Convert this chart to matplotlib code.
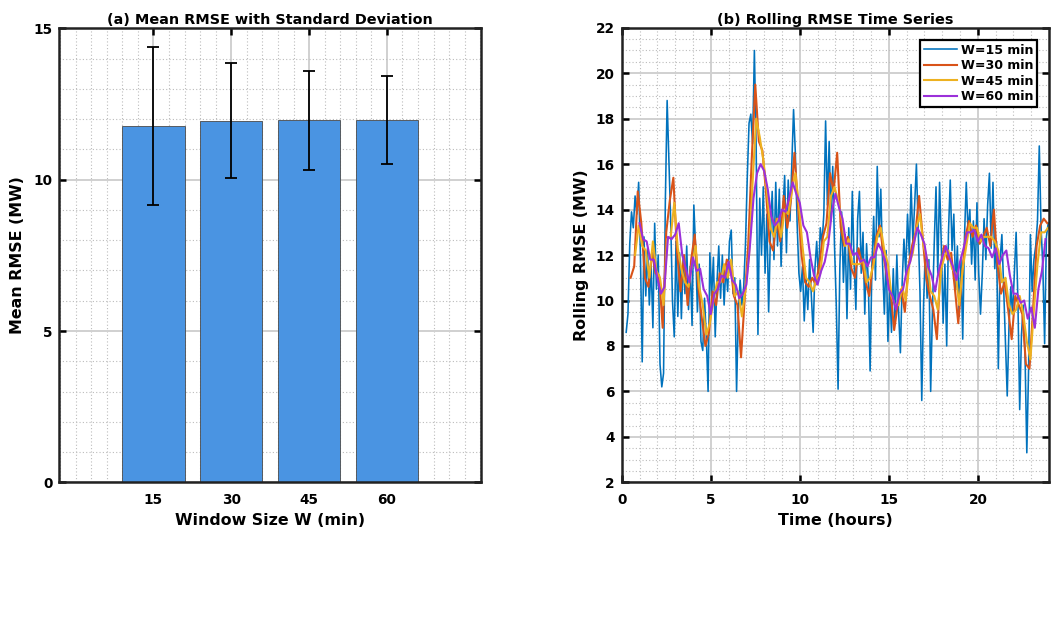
import numpy as np
import matplotlib
matplotlib.use("Agg")
import matplotlib.pyplot as plt
from matplotlib.ticker import MultipleLocator

plt.rcParams['font.family'] = ['DejaVu Sans']
plt.rcParams['font.weight'] = 'bold'

# (a) mean rolling RMSE per window size
windows = ['15', '30', '45', '60']
mean_rmse = [11.78, 11.94, 11.96, 11.98]
std_rmse = [2.62, 1.90, 1.64, 1.45]

# (b) rolling RMSE time series (hours, MW)
t15_start, t15_step = 0.25, 0.1
rmse15 = [8.6, 9.4, 12.5, 13.9, 13.2, 14.6, 13.8, 15.2, 12.0, 7.3,
          12.8, 10.2, 12.3, 9.8, 11.6, 8.8, 13.4, 10.5, 12.0, 7.2,
          6.2, 6.8, 14.4, 18.8, 16.2, 13.5, 10.0, 8.4, 12.6, 9.3,
          12.1, 9.2, 11.8, 10.3, 12.4, 9.6, 11.5, 8.9, 14.2, 12.3,
          9.5, 11.6, 8.2, 7.8, 10.1, 8.4, 6.0, 12.1, 10.2, 11.9,
          8.4, 10.8, 12.4, 10.1, 12.0, 9.8, 11.5, 10.4, 12.6, 13.1,
          10.3, 11.0, 6.0, 9.5, 10.9, 9.8, 10.6, 12.5, 15.4, 17.8,
          18.2, 16.9, 21.0, 16.8, 8.5, 14.5, 12.0, 15.0, 11.2, 13.8,
          9.5, 12.8, 14.8, 11.8, 15.2, 12.4, 14.9, 11.5, 13.9, 15.5,
          12.1, 15.3, 13.5, 16.0, 18.4, 16.5, 13.4, 11.2, 10.4, 11.5,
          9.1, 11.0, 9.6, 11.8, 10.2, 8.6, 11.4, 12.6, 10.9, 13.2,
          12.5, 13.8, 17.9, 14.2, 17.0, 13.5, 15.9, 12.4, 9.8, 6.1,
          11.5, 13.9, 10.8, 12.9, 9.2, 13.2, 10.5, 14.8, 11.7, 9.6,
          13.6, 14.8, 11.2, 13.0, 9.4, 12.5, 10.8, 6.9, 11.5, 13.7,
          10.9, 15.9, 12.8, 14.9, 11.6, 9.4, 12.2, 8.2, 10.6, 8.6,
          11.4, 9.0, 12.0, 9.5, 7.7, 10.8, 12.7, 11.2, 13.8, 12.0,
          15.1, 12.6, 14.2, 16.0, 13.1, 10.4, 5.6, 9.8, 12.2, 10.1,
          11.8, 6.0, 9.6, 12.5, 15.0, 11.2, 15.2, 12.4, 9.0, 11.6,
          8.0, 13.0, 15.3, 12.2, 13.8, 10.5, 12.4, 9.3, 11.9, 8.3,
          12.8, 15.2, 13.0, 14.0, 11.6, 13.5, 10.9, 14.3, 11.2, 9.4,
          11.2, 13.6, 11.8, 14.2, 15.6, 12.3, 15.2, 11.4, 12.6, 7.0,
          11.8, 12.9, 10.5, 8.2, 5.8, 8.9, 10.6, 9.4, 11.2, 13.0,
          10.0, 5.2, 8.5, 9.8, 7.6, 3.3, 7.0, 12.9, 10.4, 11.8,
          12.4, 13.5, 16.8, 13.2, 11.5, 8.1, 12.8, 13.4]

t30_start, t30_step = 0.5, 0.2
rmse30 = [11.0, 11.5, 14.8, 13.4, 11.0, 10.6, 12.1, 11.2, 11.1, 8.8,
          13.0, 14.4, 15.4, 12.2, 10.4, 12.0, 9.8, 11.8, 12.9, 10.6,
          9.2, 8.0, 8.6, 10.4, 9.8, 11.2, 10.8, 11.8, 11.6, 10.2,
          9.8, 7.5, 10.0, 12.4, 16.2, 19.5, 17.0, 16.6, 14.8, 12.6,
          12.2, 13.6, 12.6, 14.6, 13.2, 14.4, 16.5, 14.2, 12.0, 10.8,
          10.6, 11.0, 10.7, 11.6, 12.8, 13.4, 15.6, 14.8, 16.5, 13.2,
          12.4, 12.8, 11.4, 11.0, 12.3, 11.6, 10.8, 10.2, 11.6, 12.8,
          13.3, 12.0, 11.0, 10.4, 8.7, 9.8, 10.5, 9.5, 11.5, 12.4,
          13.0, 14.6, 12.8, 11.0, 10.2, 9.6, 8.3, 11.4, 12.4, 11.8,
          12.1, 10.6, 9.0, 11.0, 12.8, 13.5, 12.8, 13.3, 12.5, 12.8,
          13.2, 12.4, 14.0, 11.6, 10.3, 10.8, 9.6, 8.3, 10.2, 9.8,
          9.4, 7.2, 7.0, 9.6, 12.4, 13.3, 13.6, 13.4]

t45_start, t45_step = 0.75, 0.2
rmse45 = [12.0, 13.3, 12.4, 12.2, 11.0, 12.6, 11.3, 11.0, 9.8, 12.7,
          12.8, 14.3, 12.3, 11.4, 10.8, 10.6, 11.6, 12.4, 10.6, 9.8,
          8.5, 9.0, 10.0, 10.8, 10.8, 11.6, 11.0, 11.8, 10.2, 10.4,
          9.3, 10.5, 12.0, 15.2, 18.0, 17.2, 16.2, 14.8, 13.2, 12.8,
          13.6, 12.8, 14.0, 13.8, 14.8, 15.6, 14.2, 12.4, 11.0, 10.8,
          10.4, 11.0, 11.2, 12.6, 12.8, 14.6, 15.0, 14.4, 13.6, 12.4,
          12.7, 11.6, 11.6, 11.6, 11.8, 10.8, 11.0, 11.6, 12.8, 13.2,
          12.2, 11.6, 10.2, 9.8, 9.8, 10.6, 10.0, 11.6, 12.1, 13.2,
          13.8, 12.4, 11.8, 10.4, 10.2, 9.6, 11.4, 12.0, 12.2, 11.4,
          11.2, 9.8, 11.4, 12.4, 13.4, 13.2, 13.2, 12.6, 12.8, 12.8,
          12.8, 12.6, 12.2, 10.8, 11.0, 9.8, 9.4, 9.6, 10.2, 9.4,
          8.2, 7.4, 9.6, 11.6, 13.0, 13.0, 13.2]

t60_start, t60_step = 1.0, 0.2
rmse60 = [13.4, 12.7, 12.6, 11.8, 11.8, 11.0, 10.3, 10.6, 12.8, 12.7,
          12.9, 13.4, 12.0, 11.4, 10.8, 11.9, 11.3, 11.4, 10.5, 10.2,
          9.4, 10.3, 10.5, 11.1, 11.0, 11.7, 10.9, 10.7, 10.1, 10.3,
          10.7, 12.4, 14.5, 15.6, 16.0, 15.7, 14.9, 13.7, 13.3, 13.5,
          14.0, 13.9, 14.5, 15.2, 14.7, 14.3, 13.3, 13.0, 11.9, 11.1,
          10.7, 11.3, 11.7, 12.5, 13.9, 14.7, 14.1, 13.6, 12.5, 12.5,
          12.0, 12.1, 11.7, 11.8, 11.5, 11.9, 11.9, 12.5, 12.2, 11.7,
          10.5, 10.2, 9.6, 10.3, 10.5, 11.3, 11.7, 12.5, 13.2, 12.9,
          12.5, 11.5, 11.1, 10.4, 11.3, 11.9, 12.4, 11.9, 11.5, 10.9,
          11.7, 12.3, 13.0, 13.0, 13.1, 12.6, 12.9, 12.4, 12.3, 11.9,
          12.3, 11.6, 12.0, 12.2, 11.1, 10.3, 10.3, 9.9, 10.0, 9.2,
          9.7, 8.8, 10.5, 11.3, 12.7]

labels = ['W=15 min', 'W=30 min', 'W=45 min', 'W=60 min']
colors = ['#0072BD', '#D95319', '#EDB120', '#9B30D9']

fig = plt.figure(figsize=(10.57, 6.21), dpi=100)
ax1 = fig.add_axes([0.0561, 0.2233, 0.399, 0.731])
ax2 = fig.add_axes([0.5882, 0.2233, 0.4043, 0.732])


def matlab_style(ax):
    ax.set_axisbelow(True)
    ax.grid(which='major', color='#d0d0d0', linewidth=1.4, linestyle='-')
    ax.grid(which='minor', color='#bcbcbc', linewidth=0.8, linestyle=(0, (1, 2)))
    ax.tick_params(which='major', direction='in', length=5, width=1.8,
                   top=True, right=True, labelsize=9.8)
    ax.tick_params(axis='x', which='major', pad=8)
    ax.tick_params(axis='y', which='major', pad=5)
    ax.tick_params(which='minor', length=0)
    for s in ax.spines.values():
        s.set_linewidth(1.8)
        s.set_color('#222222')


# panel (a)
xpos = np.arange(len(windows))
ax1.bar(xpos, mean_rmse, width=0.8, color='#4A94E2', edgecolor='#4a4a4a',
        linewidth=0.6, zorder=2)
ax1.errorbar(xpos, mean_rmse, yerr=std_rmse, fmt='none', ecolor='black',
             elinewidth=1.3, capsize=4, capthick=1.3, zorder=3)
ax1.set_xlim(-1.21, 4.21)
ax1.set_ylim(0, 15)
ax1.set_xticks(xpos)
ax1.set_xticklabels(windows)
ax1.set_yticks([0, 5, 10, 15])
ax1.xaxis.set_minor_locator(MultipleLocator(0.2))
ax1.yaxis.set_minor_locator(MultipleLocator(1))
matlab_style(ax1)
ax1.set_xlabel('Window Size W (min)', fontsize=11.4, fontweight='bold', labelpad=4)
ax1.set_ylabel('Mean RMSE (MW)', fontsize=11.4, fontweight='bold', labelpad=6)
ax1.set_title('(a) Mean RMSE with Standard Deviation', fontsize=10.4,
              fontweight='bold', pad=3)

# panel (b)
series = [(t15_start, t15_step, rmse15), (t30_start, t30_step, rmse30),
          (t45_start, t45_step, rmse45), (t60_start, t60_step, rmse60)]
widths = [1.15, 1.5, 1.5, 1.5]
for (t0, dt, vals), lab, c, lw in zip(series, labels, colors, widths):
    t = t0 + dt * np.arange(len(vals))
    ax2.plot(t, vals, color=c, linewidth=lw, label=lab)
ax2.set_xlim(0, 24)
ax2.set_ylim(2, 22)
ax2.set_xticks([0, 5, 10, 15, 20])
ax2.set_yticks(np.arange(2, 23, 2))
ax2.xaxis.set_minor_locator(MultipleLocator(1))
ax2.yaxis.set_minor_locator(MultipleLocator(0.5))
matlab_style(ax2)
ax2.set_xlabel('Time (hours)', fontsize=11.4, fontweight='bold', labelpad=4)
ax2.set_ylabel('Rolling RMSE (MW)', fontsize=11.4, fontweight='bold', labelpad=5)
ax2.set_title('(b) Rolling RMSE Time Series', fontsize=10.4,
              fontweight='bold', pad=3)
leg = ax2.legend(loc='upper right', bbox_to_anchor=(0.972, 0.973),
                 borderaxespad=0, fancybox=False, framealpha=1,
                 edgecolor='black', handlelength=2.6, handletextpad=0.3,
                 labelspacing=0.2, borderpad=0.3,
                 prop={'size': 9.1, 'weight': 'bold'})
leg.get_frame().set_linewidth(1.6)

fig.savefig('out.png', dpi=100)
